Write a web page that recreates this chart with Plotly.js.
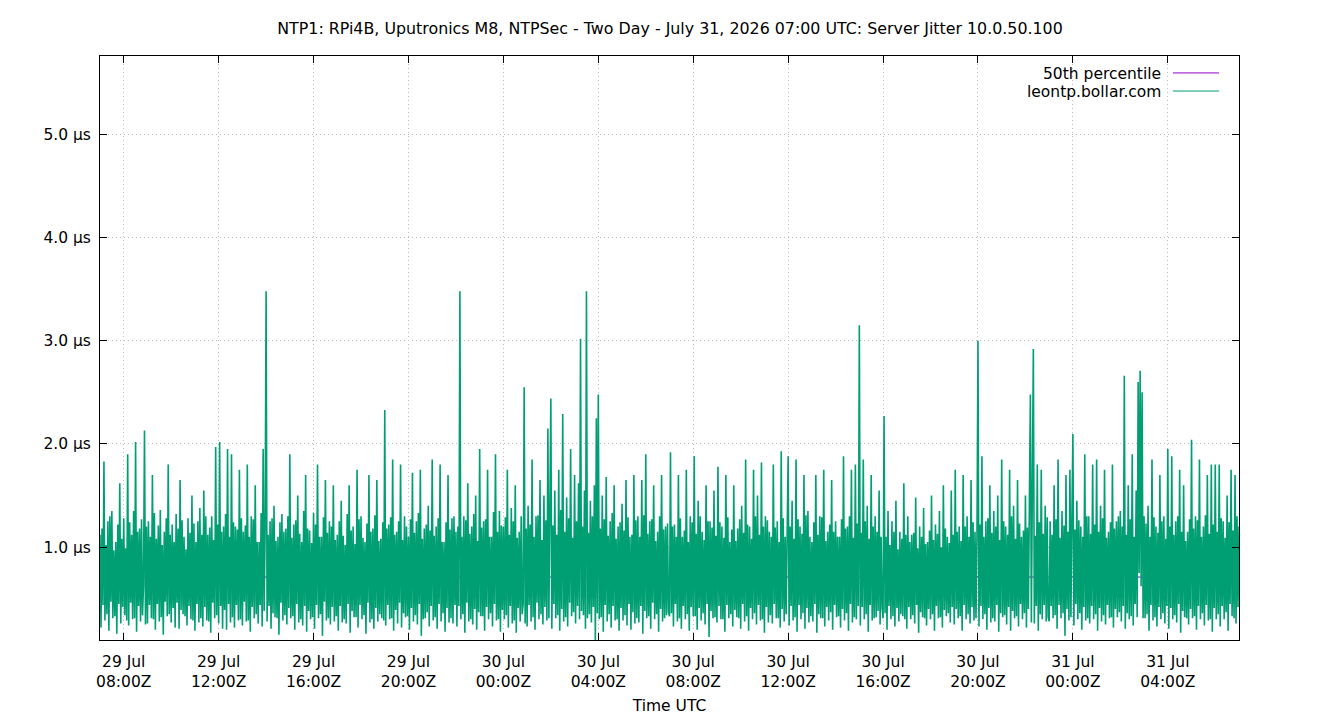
<!DOCTYPE html>
<html>
<head>
<meta charset="utf-8">
<script src="https://cdn.plot.ly/plotly-3.0.1.min.js"></script>
<style>html,body{margin:0;padding:0;background:#fff;}#chart{width:1340px;height:720px;}</style>
</head>
<body>
<div id="chart"></div>
<script>
// Server jitter (µs), one sample every 2.5 minutes, starting 29 Jul 2026 07:00 UTC
const jitter_29Jul_07_13 = [
1.12,0.22,1.18,0.44,1.83,0.29,1.02,0.35,1.25,0.19,1.3,0.47,1.35,0.31,0.97,0.33,1.05,0.16,1.22,0.45,1.62,0.26,1.08,0.42,
1.28,0.34,0.99,0.29,1.9,0.24,1.24,0.46,1.12,0.3,1.35,0.31,2.02,0.18,1.15,0.43,1.18,0.28,1.27,0.34,0.62,2.13,0.25,1.2,
0.26,1.25,0.44,1.1,0.31,1.7,0.3,1.33,0.2,1.08,0.45,1.21,0.28,1.36,0.32,1.02,0.15,1.15,0.47,1.28,0.33,1.8,0.35,1.12,
0.27,1.22,0.41,1.05,0.22,1.32,0.46,1.18,0.21,1.65,0.39,1.26,0.35,1.1,0.33,0.98,0.24,1.28,0.43,1.14,0.3,1.5,0.29,1.23,
0.19,1.05,0.45,1.25,0.27,1.38,0.31,1.12,0.23,1.55,0.42,1.3,0.29,1.12,0.28,1.19,0.17,1.3,0.46,1.07,0.31,1.97,0.34,1.22,
0.26,2.02,0.43,1.15,0.21,1.2,0.39,1.32,0.2,1.95,0.45,1.1,0.27,1.9,0.32,1.24,0.22,1.2,0.44,1.17,0.29,1.75,0.3,1.28
];
const jitter_29Jul_13_19 = [
0.24,1.15,0.47,1.21,0.28,1.8,0.29,1.1,0.18,1.3,0.42,1.27,0.31,1.6,0.35,1.05,0.26,1.05,0.44,1.33,0.23,1.95,0.38,1.16,
3.48,0.28,1.12,0.43,1.25,0.21,1.28,0.36,1.4,0.32,1.06,0.31,1.1,0.15,1.24,0.46,1.32,0.29,1.15,0.34,1.18,0.25,1.3,0.41,
1.9,0.31,1.09,0.33,1.22,0.2,1.26,0.45,1.5,0.27,1.13,0.3,1.05,0.24,1.35,0.43,1.7,0.18,1.18,0.38,1.16,0.3,1.04,0.32,
1.33,0.21,1.22,0.44,1.8,0.31,1.1,0.35,1.1,0.14,1.29,0.47,1.65,0.29,1.14,0.31,1.25,0.25,1.2,0.42,1.6,0.28,1.07,0.33,
1.12,0.19,1.25,0.43,1.45,0.27,1.11,0.3,1.02,0.26,1.32,0.45,1.6,0.17,1.16,0.38,1.2,0.32,1.03,0.32,1.75,0.22,1.27,0.44,
1.3,0.3,1.09,0.34,1.05,0.16,1.23,0.46,1.7,0.27,1.15,0.3,1.18,0.21,1.31,0.41,1.65,0.28,1.06,0.35,1.08,0.31,1.24,0.29
];
const jitter_29Jul_19_01 = [
2.33,0.24,1.18,0.44,1.22,0.3,1.29,0.31,1.85,0.19,1.12,0.39,1.15,0.26,1.25,0.46,1.8,0.22,1.07,0.36,1.3,0.32,1.2,0.33,
1.1,0.2,1.27,0.41,1.72,0.28,1.14,0.34,1.25,0.25,1.33,0.45,1.75,0.14,1.08,0.3,1.18,0.31,1.22,0.37,1.4,0.23,1.16,0.43,
1.85,0.29,1.11,0.32,1.2,0.21,1.28,0.45,1.8,0.28,1.05,0.36,1.05,0.18,1.24,0.41,1.7,0.27,1.17,0.31,1.28,0.26,1.3,0.44,
1.15,0.23,1.2,0.43,3.48,0.3,1.1,0.35,1.3,0.17,1.26,0.46,1.62,0.28,1.13,0.3,1.2,0.25,1.32,0.4,1.5,0.2,1.06,0.37,
1.95,0.33,1.19,0.33,1.25,0.19,1.27,0.42,1.75,0.3,1.1,0.36,1.1,0.23,1.34,0.45,1.9,0.29,1.15,0.3,1.35,0.18,1.21,0.39,
1.2,0.3,1.29,0.34,1.75,0.22,1.12,0.43,1.38,0.26,1.25,0.29,1.6,0.17,1.09,0.41,1.15,0.28,1.3,0.35,0.45,2.55,0.26,1.18
];
const jitter_30Jul_01_07 = [
0.23,1.4,0.44,1.22,0.28,1.85,0.32,1.1,0.2,1.3,0.46,1.31,0.3,1.65,0.35,1.07,0.25,1.5,0.42,1.26,0.29,2.15,0.31,1.14,
2.44,0.21,1.21,0.45,1.55,0.31,1.12,0.34,1.75,0.19,1.36,0.4,2.29,0.28,1.15,0.32,1.48,0.23,1.28,0.46,1.95,0.33,1.09,0.37,
1.7,0.26,1.25,0.43,1.62,0.3,3.02,0.38,1.2,0.34,1.55,0.21,3.48,0.31,1.14,0.35,1.45,0.27,1.3,0.42,1.6,0.1,2.25,0.36,
2.48,0.3,1.18,0.32,1.5,0.18,1.27,0.44,1.68,0.28,1.11,0.35,1.25,0.22,1.33,0.43,1.6,0.29,1.08,0.3,1.2,0.19,1.24,0.41,
1.42,0.29,1.16,0.34,1.65,0.24,1.29,0.45,1.1,0.2,1.12,0.37,1.7,0.26,1.26,0.31,1.3,0.27,1.1,0.43,1.65,0.16,1.31,0.38,
1.9,0.31,1.13,0.33,1.25,0.21,1.27,0.46,1.6,0.3,1.06,0.35,1.15,0.18,1.3,0.4,1.7,0.28,1.17,0.31,1.2,0.34,1.23,0.37
];
const jitter_30Jul_07_13 = [
0.33,1.92,0.36,1.2,0.23,1.22,0.45,1.1,0.28,1.7,0.31,1.28,0.21,1.1,0.43,1.16,0.3,1.75,0.35,1.05,0.19,1.3,0.42,1.24,
0.33,1.88,0.33,1.13,0.2,1.45,0.41,1.3,0.29,1.15,0.36,1.07,0.25,1.6,0.45,1.25,0.13,1.25,0.38,1.19,0.31,1.55,0.32,1.11,
0.27,1.78,0.43,1.24,0.3,1.2,0.3,1.09,0.18,1.7,0.44,1.29,0.31,1.05,0.35,1.17,0.23,1.6,0.39,1.06,0.32,1.18,0.31,1.27,
0.21,1.4,0.45,1.14,0.28,1.85,0.33,1.22,0.19,1.2,0.41,1.08,0.3,1.75,0.36,1.3,0.25,1.5,0.44,1.12,0.29,1.82,0.3,1.2,
0.17,1.3,0.42,1.26,0.27,1.15,0.34,1.1,0.26,1.8,0.45,1.19,0.31,1.25,0.31,1.05,0.22,1.93,0.4,1.28,0.28,1.1,0.35,1.15,
1.88,0.24,1.2,0.43,1.45,0.29,1.08,0.32,1.85,0.18,1.27,0.44,1.2,0.3,1.13,0.36,1.7,0.21,1.31,0.41,1.35,0.27,1.1,0.33
];
const jitter_30Jul_13_19 = [
1.05,0.28,1.24,0.45,1.7,0.17,1.12,0.35,1.3,0.31,1.29,0.31,1.75,0.23,1.06,0.42,1.15,0.29,1.22,0.37,1.65,0.2,1.15,0.44,
1.25,0.32,1.1,0.33,1.1,0.22,1.27,0.4,1.88,0.29,1.18,0.36,1.2,0.19,1.3,0.45,1.75,0.27,1.09,0.32,1.8,0.3,1.23,0.43,
3.15,0.24,1.14,0.42,1.85,0.3,1.25,0.35,1.4,0.18,1.08,0.44,1.7,0.29,1.2,0.31,1.3,0.32,1.15,0.38,1.55,0.25,1.1,0.41,
0.31,2.27,0.36,1.1,0.2,1.35,0.43,1.02,0.3,1.25,0.33,1.15,0.23,1.45,0.41,0.98,0.28,1.15,0.35,1.08,0.33,1.62,0.3,1.12,
0.21,1.3,0.42,1.05,0.3,1.12,0.34,1.14,0.26,1.48,0.44,0.99,0.17,1.2,0.37,1.1,0.32,1.38,0.31,1.03,0.24,1.05,0.4,1.16,
0.3,1.5,0.35,1.07,0.19,1.22,0.43,1.13,0.31,1.35,0.32,1.0,0.22,1.6,0.39,1.18,0.33,1.1,0.36,1.04,0.27,1.55,0.42,1.12
];
const jitter_30Jul_19_01 = [
0.25,1.75,0.4,1.15,0.31,1.2,0.33,1.06,0.19,1.7,0.44,1.2,0.3,1.3,0.35,1.1,0.26,1.65,0.42,1.24,0.29,1.15,0.31,1.13,
3.0,0.23,1.22,0.43,1.88,0.3,1.1,0.35,1.25,0.2,1.28,0.41,1.6,0.27,1.14,0.31,1.35,0.28,1.2,0.44,1.5,0.18,1.07,0.36,
1.85,0.32,1.25,0.34,1.2,0.25,1.12,0.42,1.75,0.19,1.3,0.38,1.4,0.31,1.08,0.33,1.65,0.23,1.23,0.45,1.1,0.3,1.16,0.36,
1.5,0.22,1.19,0.4,1.3,2.48,0.27,1.26,2.92,0.26,1.11,0.43,1.8,0.19,1.24,0.35,1.75,0.3,1.13,0.44,1.4,0.28,1.29,0.32,
0.28,1.25,0.43,1.12,0.31,1.6,0.34,1.27,0.21,1.85,0.44,1.09,0.31,1.35,0.36,1.21,0.14,1.7,0.4,1.15,0.29,1.75,0.32,1.28,
2.1,0.24,1.17,0.45,1.45,0.3,1.26,0.36,1.2,0.2,1.1,0.42,1.9,0.29,1.3,0.31,1.3,0.26,1.13,0.43,1.8,0.3,1.22,0.35
];
const jitter_31Jul_01_07 = [
1.85,0.19,1.15,0.41,1.4,0.28,1.28,0.34,1.75,0.25,1.09,0.44,1.15,0.31,1.24,0.32,1.8,0.22,1.18,0.4,1.25,0.32,1.3,0.37,
1.35,0.28,1.2,0.43,2.66,0.21,1.12,0.36,1.6,0.3,1.27,0.33,1.9,0.24,1.1,0.45,1.55,0.32,2.6,0.75,2.71,0.62,2.5,0.31,
1.3,0.31,1.23,0.35,1.4,0.19,1.1,0.44,1.85,0.29,1.29,0.32,1.2,0.23,1.14,0.42,1.7,0.3,1.25,0.36,1.3,0.26,1.08,0.43,
1.95,0.21,1.2,0.41,1.88,0.3,1.12,0.34,1.25,0.27,1.3,0.45,1.75,0.17,1.15,0.38,1.6,0.32,1.06,0.31,1.15,0.25,1.27,0.4,
2.04,0.31,1.18,0.33,1.3,0.2,1.26,0.43,1.85,0.3,1.1,0.36,1.2,0.24,1.31,0.44,1.7,0.29,1.13,0.3,1.8,0.18,1.22,0.41,
1.8,0.3,1.15,0.35,1.8,0.23,1.28,0.43,1.25,0.3,1.09,0.37,1.5,0.19,1.24,0.45,1.75,0.33,1.16,0.31,1.7,0.26,1.3,0.42,
1.2
];
const percentile50 = 0.71;

const tickDates = ['2026-07-29 08:00','2026-07-29 12:00','2026-07-29 16:00','2026-07-29 20:00',
  '2026-07-30 00:00','2026-07-30 04:00','2026-07-30 08:00','2026-07-30 12:00','2026-07-30 16:00','2026-07-30 20:00',
  '2026-07-31 00:00','2026-07-31 04:00'];
const tickLabels = ['29 Jul<br>08:00Z','29 Jul<br>12:00Z','29 Jul<br>16:00Z','29 Jul<br>20:00Z',
  '30 Jul<br>00:00Z','30 Jul<br>04:00Z','30 Jul<br>08:00Z','30 Jul<br>12:00Z','30 Jul<br>16:00Z','30 Jul<br>20:00Z',
  '31 Jul<br>00:00Z','31 Jul<br>04:00Z'];
const yTicks = [1, 2, 3, 4, 5];
const startTime = '2026-07-29 07:00:00';
const endTime = '2026-07-31 07:00:00';
const sampleMinutes = 2.5;

const jitter = [].concat(jitter_29Jul_07_13, jitter_29Jul_13_19, jitter_29Jul_19_01, jitter_30Jul_01_07,
  jitter_30Jul_07_13, jitter_30Jul_13_19, jitter_30Jul_19_01, jitter_31Jul_01_07);
const t0 = Date.UTC(2026, 6, 29, 7, 0, 0);
function fmt(ms){ return new Date(ms).toISOString().replace('T',' ').slice(0,19); }
const times = jitter.map((v, i) => fmt(t0 + i * sampleMinutes * 60000));

const FONT = 'DejaVu Sans, sans-serif';
const FS = 15.5;
const traces = [
  {x: [startTime, endTime], y: [percentile50, percentile50], type: 'scatter', mode: 'lines',
   name: '50th percentile', line: {color: '#9400d3', width: 1}, showlegend: false, hoverinfo: 'skip'},
  {x: times, y: jitter, type: 'scatter', mode: 'lines', name: 'leontp.bollar.com',
   line: {color: '#009e73', width: 1.6}, showlegend: false}
];
const axisCommon = {
  showline: true, linecolor: '#000', linewidth: 1, mirror: 'allticks',
  ticks: 'inside', ticklen: 7, tickcolor: '#000', tickwidth: 1,
  showgrid: true, gridcolor: '#bdbdbd', griddash: '1px,3px', gridwidth: 1,
  zeroline: false, tickfont: {family: FONT, size: FS, color: '#000'}
};
const layout = {
  width: 1340, height: 720,
  margin: {l: 100, r: 101, t: 56, b: 80},
  paper_bgcolor: '#fff', plot_bgcolor: '#fff',
  font: {family: FONT, size: FS, color: '#000'},
  title: {text: 'NTP1: RPi4B, Uputronics M8, NTPSec - Two Day - July 31, 2026 07:00 UTC: Server Jitter 10.0.50.100',
          x: 0.5, xanchor: 'center', y: 0.96, yanchor: 'middle', font: {family: FONT, size: 15.85, color: '#000'}},
  xaxis: Object.assign({}, axisCommon, {
    type: 'date', range: [startTime, endTime], tickmode: 'array', tickvals: tickDates, ticktext: tickLabels,
    ticklabelstandoff: 7,
    title: {text: 'Time UTC', font: {family: FONT, size: FS, color: '#000'}, standoff: 10}
  }),
  yaxis: Object.assign({}, axisCommon, {
    range: [0.1, 5.76], tickmode: 'array', tickvals: yTicks,
    ticktext: yTicks.map(v => v.toFixed(1) + ' µs'), ticklabelstandoff: 5
  }),
  showlegend: false,
  annotations: [
    {xref: 'paper', yref: 'paper', x: 0.9335, y: 0.969, xanchor: 'right', yanchor: 'middle', showarrow: false,
     text: '50th percentile', font: {family: FONT, size: FS, color: '#000'}},
    {xref: 'paper', yref: 'paper', x: 0.9335, y: 0.938, xanchor: 'right', yanchor: 'middle', showarrow: false,
     text: 'leontp.bollar.com', font: {family: FONT, size: FS, color: '#000'}}
  ],
  shapes: [
    {type: 'line', xref: 'paper', yref: 'paper', x0: 0.942, x1: 0.9824, y0: 0.971, y1: 0.971, line: {color: '#9400d3', width: 1}},
    {type: 'line', xref: 'paper', yref: 'paper', x0: 0.942, x1: 0.9824, y0: 0.940, y1: 0.940, line: {color: '#009e73', width: 1}}
  ]
};
Plotly.newPlot('chart', traces, layout, {displayModeBar: false, staticPlot: true});
</script>
</body>
</html>
